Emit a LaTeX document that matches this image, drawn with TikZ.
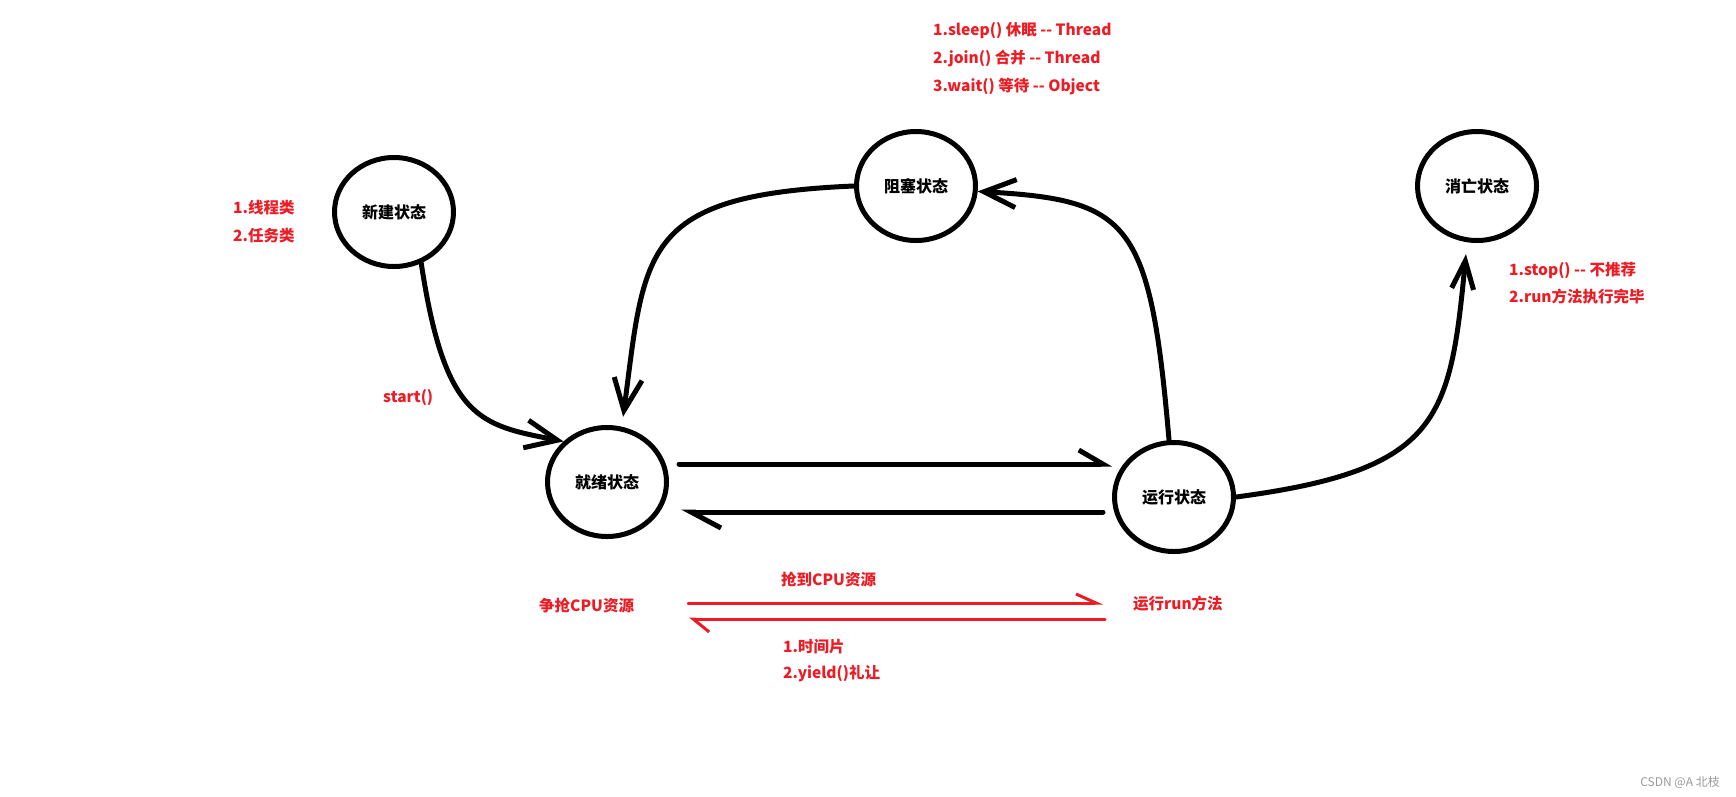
\documentclass[tikz,border=0pt]{standalone}
\usepackage{fontspec}
\setmainfont{Noto Sans CJK SC}
\usetikzlibrary{shapes.geometric,arrows.meta,calc}
\definecolor{pred}{HTML}{ED1C24}
\definecolor{wmgray}{HTML}{9A9A9A}
\newcommand\dashdash{-\kern0pt-}
\begin{document}
\begin{tikzpicture}[x=1pt,y=-1pt,
  state/.style={ellipse, draw, line width=5pt, minimum width=119pt, minimum height=109pt,
    inner sep=0pt, font=\fontsize{16}{16}\selectfont\bfseries},
  conn/.style={line width=5pt, line cap=round, line join=round},
  headarrow/.style={-{Straight Barb[length=32pt,width=28pt]}},
  redtxt/.style={anchor=west, inner sep=0pt, text=pred, font=\fontsize{15.5}{15.5}\selectfont\bfseries},
  redline/.style={draw=pred, line width=3pt}
]
\useasboundingbox[fill=white] (0,0) rectangle (1736,796);

% states
\node[state] (new)   at (394,212)  {新建状态};
\node[state] (block) at (916,186)  {阻塞状态};
\node[state] (dead)  at (1477,186) {消亡状态};
\node[state] (ready) at (607,482)  {就绪状态};
\node[state] (run)   at (1174,497) {运行状态};

% curved connectors
\draw[conn, headarrow] (new.-62) .. controls (445,420) and (480,425) .. (ready.137);
\draw[conn, headarrow, shorten >=10pt] (block.west) .. controls (640,195) and (645,250) .. (ready.75);
\draw[conn, headarrow] (run.95) .. controls (1150,220) and (1130,200) .. (block.-5);
\draw[conn, -{Straight Barb[length=28pt,width=22pt]}, shorten >=12pt] (run.east) .. controls (1440,470) and (1450,420) .. (dead.-100);

% horizontal connectors
\draw[conn, -{Straight Barb[harpoon,length=24pt,width=28pt]}] ($(ready.center)+(72,-18)$) -- ($(run.center)+(-62,-33)$);
\draw[conn, -{Straight Barb[harpoon,length=30pt,width=32pt]}] ($(run.center)+(-71,15)$) -- ($(ready.center)+(74,30)$);

% red arrows
\coordinate (ra1) at (688,603);
\coordinate (ra2) at (1103,603);
\coordinate (rb1) at (1105,619);
\coordinate (rb2) at (689,619);
\draw[redline, line cap=round, -{Straight Barb[harpoon,length=20pt,width=18pt]}] (ra1) -- (ra2);
\draw[redline, line cap=round, -{Straight Barb[harpoon,length=16pt,width=26pt]}] (rb1) -- (rb2);

% labels
\node[redtxt] (t1) at (933,31) {1.sleep() 休眠 \dashdash{} Thread};
\node[redtxt] (t2) at (933,59) {2.join() 合并 \dashdash{} Thread};
\node[redtxt] (t3) at (933,87) {3.wait() 等待 \dashdash{} Object};
\node[redtxt] (c1) at (233,208) {1.线程类};
\node[redtxt] (c2) at (233,236) {2.任务类};
\node[redtxt] (st) at (383,398) {start()};
\node[redtxt] (d1) at (1509,270) {1.stop() \dashdash{} 不推荐};
\node[redtxt] (d2) at (1509,297) {2.run方法执行完毕};
\node[redtxt] (g1) at (781,580) {抢到CPU资源};
\node[redtxt] (g0) at (539,606) {争抢CPU资源};
\node[redtxt] (rr) at (1133,604) {运行run方法};
\node[redtxt] (y1) at (783,647) {1.时间片};
\node[redtxt] (y2) at (783,673) {2.yield()礼让};
\node[anchor=east, inner sep=0pt, text=wmgray, font=\fontsize{12}{12}\selectfont] (wm) at (1720,782) {CSDN @A 北枝};
\end{tikzpicture}
\end{document}
